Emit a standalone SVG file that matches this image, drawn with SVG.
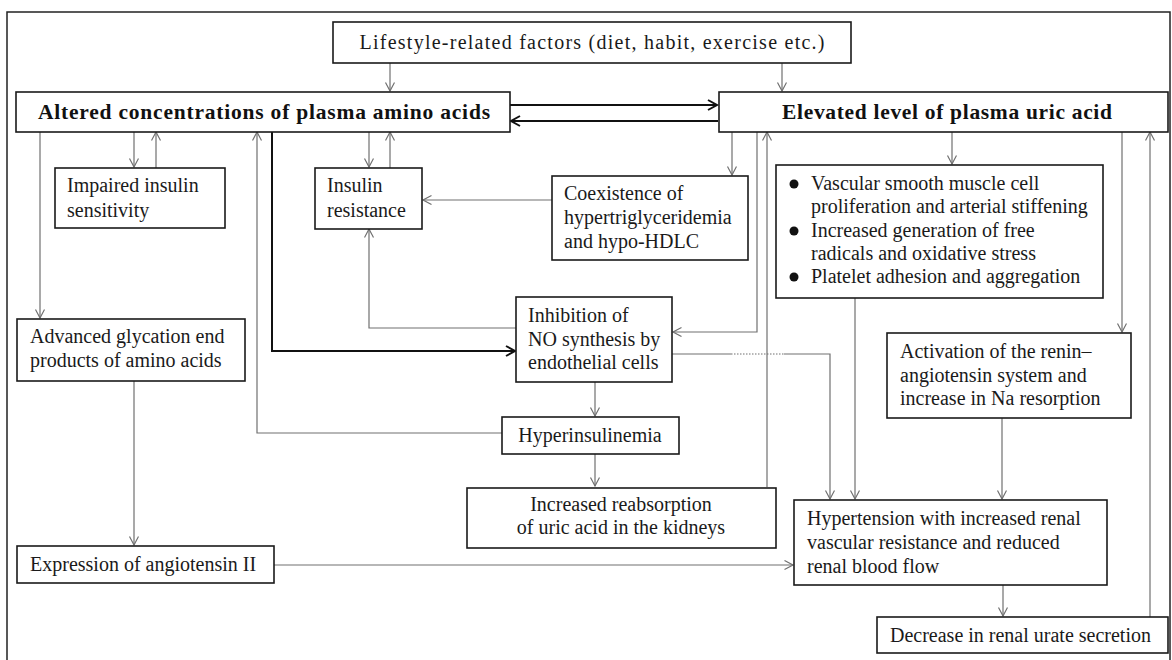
<svg xmlns="http://www.w3.org/2000/svg" width="1172" height="660" viewBox="0 0 1172 660">
<defs>
<style>
.box{fill:#fff;stroke:#1a1a1a;stroke-width:1.6}
.t{font-family:"Liberation Serif","Times New Roman",serif;font-size:20px;fill:#1a1a1a}
.tb{font-family:"Liberation Serif","Times New Roman",serif;font-size:21.5px;font-weight:bold;fill:#111}
.c{fill:none;stroke:#707070;stroke-width:1.2}
.k{fill:none;stroke:#111;stroke-width:2}
.d{fill:none;stroke:#707070;stroke-width:1.2;stroke-dasharray:1.5 1.5}
</style>
<marker id="a" markerWidth="12" markerHeight="12" refX="9" refY="5" orient="auto" markerUnits="userSpaceOnUse"><path d="M0.5,0.5 L9,5 L0.5,9.5" fill="none" stroke="#707070" stroke-width="1.2"/></marker>
<marker id="ak" markerWidth="14" markerHeight="14" refX="10" refY="6" orient="auto" markerUnits="userSpaceOnUse"><path d="M1,1 L10,6 L1,11" fill="none" stroke="#111" stroke-width="2"/></marker>
</defs>
<rect width="1172" height="660" fill="#fff"/>
<rect x="7" y="12" width="1163" height="660" fill="none" stroke="#222" stroke-width="1.5"/>

<g id="connectors">
<path class="c" d="M390,63 V91" marker-end="url(#a)"/>
<path class="c" d="M782,63 V91" marker-end="url(#a)"/>
<path class="k" d="M510,105 H717" marker-end="url(#ak)"/>
<path class="k" d="M718,121 H511" marker-end="url(#ak)"/>
<path class="c" d="M134,132 V167" marker-end="url(#a)"/>
<path class="c" d="M156,168 V132" marker-end="url(#a)"/>
<path class="c" d="M369,132 V167" marker-end="url(#a)"/>
<path class="c" d="M390,168 V132" marker-end="url(#a)"/>
<path class="c" d="M40,132 V318" marker-end="url(#a)"/>
<path class="c" d="M502,433 H257 V132" marker-end="url(#a)"/>
<path class="k" d="M272,132 V351 H515" marker-end="url(#ak)"/>
<path class="c" d="M732,132 V175" marker-end="url(#a)"/>
<path class="c" d="M552,200 H423" marker-end="url(#a)"/>
<path class="c" d="M516,328 H369 V229" marker-end="url(#a)"/>
<path class="c" d="M757,132 V332 H673" marker-end="url(#a)"/>
<path class="c" d="M767,487 V132" marker-end="url(#a)"/>
<path class="c" d="M672,354 H731"/>
<path class="d" d="M731,354 H784"/>
<path class="c" d="M784,354 H830 V499" marker-end="url(#a)"/>
<path class="c" d="M595,382 V416" marker-end="url(#a)"/>
<path class="c" d="M595,454 V486" marker-end="url(#a)"/>
<path class="c" d="M952,132 V164" marker-end="url(#a)"/>
<path class="c" d="M855,298 V499" marker-end="url(#a)"/>
<path class="c" d="M1122,132 V332" marker-end="url(#a)"/>
<path class="c" d="M1002,418 V499" marker-end="url(#a)"/>
<path class="c" d="M1003,585 V616" marker-end="url(#a)"/>
<path class="c" d="M1150,617 V132" marker-end="url(#a)"/>
<path class="c" d="M134,381 V545" marker-end="url(#a)"/>
<path class="c" d="M274,565 H793" marker-end="url(#a)"/>
</g>

<g id="lifestyle">
<rect class="box" x="333" y="22" width="518" height="41"/>
<text class="t" x="592" y="49" text-anchor="middle" textLength="465" lengthAdjust="spacing">Lifestyle-related factors (diet, habit, exercise etc.)</text>
</g>
<g id="altered">
<rect class="box" x="16" y="92" width="494" height="40"/>
<text class="tb" x="264" y="119" text-anchor="middle" textLength="452" lengthAdjust="spacing">Altered concentrations of plasma amino acids</text>
</g>
<g id="elevated">
<rect class="box" x="719" y="92" width="449" height="40"/>
<text class="tb" x="947" y="119" text-anchor="middle" textLength="330" lengthAdjust="spacing">Elevated level of plasma uric acid</text>
</g>
<g id="impaired">
<rect class="box" x="55" y="168" width="170" height="60"/>
<text class="t" x="67" y="192">Impaired insulin</text>
<text class="t" x="67" y="217">sensitivity</text>
</g>
<g id="insulin-resistance">
<rect class="box" x="315" y="168" width="107" height="61"/>
<text class="t" x="327" y="192">Insulin</text>
<text class="t" x="327" y="217">resistance</text>
</g>
<g id="coexistence">
<rect class="box" x="552" y="176" width="196" height="84"/>
<text class="t" x="564" y="200">Coexistence of</text>
<text class="t" x="564" y="224">hypertriglyceridemia</text>
<text class="t" x="564" y="248">and hypo-HDLC</text>
</g>
<g id="bullets">
<rect class="box" x="776" y="165" width="327" height="133"/>
<circle cx="794" cy="184" r="4.5" fill="#111"/>
<circle cx="794" cy="231" r="4.5" fill="#111"/>
<circle cx="794" cy="277" r="4.5" fill="#111"/>
<text class="t" x="811" y="190">Vascular smooth muscle cell</text>
<text class="t" x="811" y="213">proliferation and arterial stiffening</text>
<text class="t" x="811" y="237">Increased generation of free</text>
<text class="t" x="811" y="260">radicals  and oxidative stress</text>
<text class="t" x="811" y="283">Platelet adhesion and aggregation</text>
</g>
<g id="advanced">
<rect class="box" x="17" y="319" width="228" height="62"/>
<text class="t" x="30" y="343">Advanced glycation end</text>
<text class="t" x="30" y="367">products of amino acids</text>
</g>
<g id="no-synthesis">
<rect class="box" x="516" y="297" width="156" height="85"/>
<text class="t" x="528" y="322">Inhibition of</text>
<text class="t" x="528" y="346">NO synthesis by</text>
<text class="t" x="528" y="369">endothelial cells</text>
</g>
<g id="activation">
<rect class="box" x="887" y="333" width="244" height="85"/>
<text class="t" x="900" y="358">Activation of the renin–</text>
<text class="t" x="900" y="382">angiotensin system and</text>
<text class="t" x="900" y="405">increase in Na resorption</text>
</g>
<g id="hyperinsulinemia">
<rect class="box" x="502" y="417" width="177" height="37"/>
<text class="t" x="590" y="442" text-anchor="middle">Hyperinsulinemia</text>
</g>
<g id="reabsorption">
<rect class="box" x="467" y="488" width="309" height="60"/>
<text class="t" x="621" y="511" text-anchor="middle">Increased reabsorption</text>
<text class="t" x="621" y="534" text-anchor="middle">of uric acid in the kidneys</text>
</g>
<g id="hypertension">
<rect class="box" x="794" y="500" width="313" height="85"/>
<text class="t" x="807" y="525">Hypertension with increased renal</text>
<text class="t" x="807" y="549">vascular resistance and reduced</text>
<text class="t" x="807" y="573">renal blood flow</text>
</g>
<g id="angiotensin">
<rect class="box" x="17" y="546" width="257" height="37"/>
<text class="t" x="30" y="571">Expression of angiotensin II</text>
</g>
<g id="decrease">
<rect class="box" x="877" y="617" width="291" height="36"/>
<text class="t" x="890" y="642">Decrease in renal urate secretion</text>
</g>
</svg>
